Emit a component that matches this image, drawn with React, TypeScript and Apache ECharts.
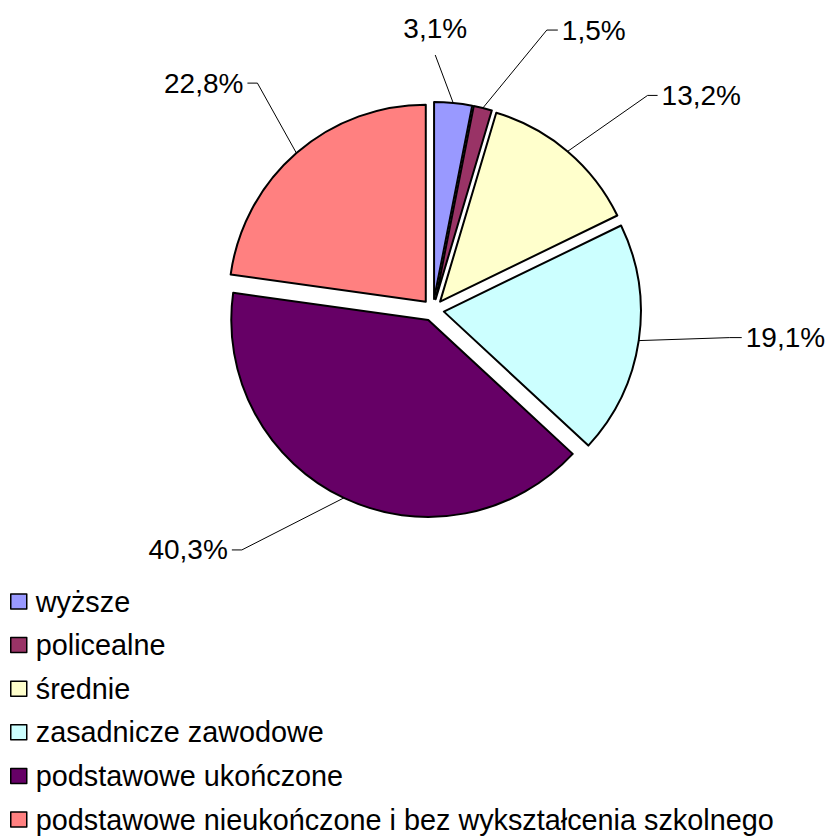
import React, { useEffect, useRef } from "react";
import * as echarts from "echarts";

const CATEGORIES = [
  "wyższe",
  "policealne",
  "średnie",
  "zasadnicze zawodowe",
  "podstawowe ukończone",
  "podstawowe nieukończone i bez wykształcenia szkolnego",
];
const VALUES = [3.1, 1.5, 13.2, 19.1, 40.3, 22.8];
const COLORS = ["#9999ff", "#993366", "#ffffcc", "#ccffff", "#660066", "#ff8080"];

// leader-line styling: [dx, dy from slice edge to elbow, horizontal tail length]
const LEADERS: number[][] = [
  [-18, -48, 0],
  [64, -78, 11],
  [80, -56, 10],
  [91, -3, 12],
  [-102, 52, -10],
  [-39, -70, -10],
];

const CX = 433;
const CY = 310;
const R = 197;
const OFFSET = 11;
const FONT = "'Liberation Sans', Arial, sans-serif";

const TOTAL = VALUES.reduce((a, b) => a + b, 0);

function angles(i: number) {
  let before = 0;
  for (let k = 0; k < i; k++) before += VALUES[k];
  const start = (before / TOTAL) * 360;
  const mid = ((before + VALUES[i] / 2) / TOTAL) * Math.PI * 2;
  return { start, mid };
}

function sliceCenter(i: number): [number, number] {
  const { mid } = angles(i);
  return [CX + Math.sin(mid) * OFFSET, CY - Math.cos(mid) * OFFSET];
}

function edgePoint(i: number): [number, number] {
  const { mid } = angles(i);
  const [cx, cy] = sliceCenter(i);
  return [cx + Math.sin(mid) * R, cy - Math.cos(mid) * R];
}

function makeSeries(i: number) {
  const { start } = angles(i);
  return {
    type: "pie",
    name: CATEGORIES[i],
    center: sliceCenter(i),
    radius: [0, R],
    startAngle: 90 - start,
    clockwise: true,
    avoidLabelOverlap: false,
    silent: true,
    emphasis: { disabled: true },
    itemStyle: { borderColor: "#000", borderWidth: 2 },
    label: {
      show: true,
      position: "outside",
      fontFamily: FONT,
      fontSize: 28,
      color: "#000",
      formatter: (p: any) => p.value.toFixed(1).replace(".", ",") + "%",
    },
    labelLine: {
      show: true,
      lineStyle: { color: "#000", width: 1 },
    },
    labelLayout: (params: any) => {
      if (params.dataIndex !== 0) return {};
      const [ex, ey] = edgePoint(i);
      const [dx, dy, h] = LEADERS[i];
      const bx = ex + dx;
      const by = ey + dy;
      if (h === 0) {
        return {
          x: bx,
          y: by - 26,
          align: "center",
          verticalAlign: "middle",
          labelLinePoints: [
            [ex, ey],
            [bx, by],
            [bx, by],
          ],
        };
      }
      const tx = bx + h;
      return {
        x: tx + (h > 0 ? 4 : -4),
        y: by,
        align: h > 0 ? "left" : "right",
        verticalAlign: "middle",
        labelLinePoints: [
          [ex, ey],
          [bx, by],
          [tx, by],
        ],
      };
    },
    data: [
      {
        name: CATEGORIES[i],
        value: VALUES[i],
        itemStyle: { color: COLORS[i] },
      },
      {
        name: "__rest" + i,
        value: TOTAL - VALUES[i],
        itemStyle: { color: "rgba(0,0,0,0)", borderWidth: 0 },
        label: { show: false },
        labelLine: { show: false },
      },
    ],
  };
}

export default function App() {
  const ref = useRef<HTMLDivElement>(null);
  useEffect(() => {
    if (!ref.current) return;
    const chart = echarts.init(ref.current, null, { renderer: "svg" });
    chart.setOption({
      animation: false,
      backgroundColor: "#ffffff",
      textStyle: { fontFamily: FONT },
      legend: {
        orient: "vertical",
        left: 10,
        top: 587,
        padding: 0,
        itemWidth: 16,
        itemHeight: 15,
        itemGap: 14.6,
        selectedMode: false,
        icon: "rect",
        data: CATEGORIES.map((name, i) => ({
          name,
          itemStyle: { color: COLORS[i], borderColor: "#000", borderWidth: 1.5 },
        })),
        textStyle: {
          fontFamily: FONT,
          fontSize: 28.8,
          lineHeight: 29,
          color: "#000",
          padding: [0, 0, 0, 4],
        },
      },
      series: CATEGORIES.map((_, i) => makeSeries(i)),
    });
    return () => chart.dispose();
  }, []);
  return (
    <div
      ref={ref}
      style={{ position: "fixed", left: 0, top: 0, width: 829, height: 837 }}
    />
  );
}
